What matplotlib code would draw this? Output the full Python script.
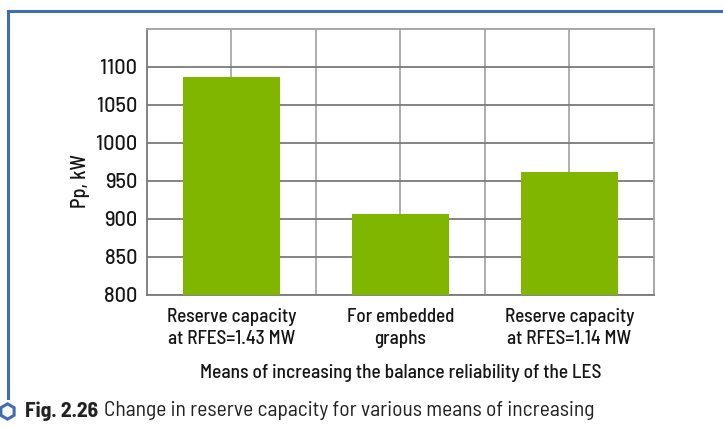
import matplotlib
matplotlib.use('Agg')
import matplotlib.pyplot as plt
from matplotlib.lines import Line2D
import numpy as np

categories = ['Reserve capacity\nat RFES=1.43 MW', 'For embedded\ngraphs', 'Reserve capacity\nat RFES=1.14 MW']
values = [1087, 907, 962]
yticks = [800, 850, 900, 950, 1000, 1050, 1100]

plt.rcParams['font.family'] = ['Barlow Semi Condensed', 'DejaVu Sans']
plt.rcParams['font.weight'] = 'medium'
plt.rcParams['axes.labelweight'] = 'medium'
ink = '#151515'

fig = plt.figure(figsize=(7.23, 4.28), dpi=100)
W, H = 723, 428
ax = fig.add_axes([147 / W, 1 - 295 / H, (654 - 147) / W, (295 - 29) / H])

x = np.arange(len(categories))
ax.bar(x, values, width=0.575, color='#80b500', zorder=3)
ax.set_xlim(-0.5, len(categories) - 0.5)
ax.set_ylim(800, 1150)
ax.set_yticks(yticks)
ax.set_yticklabels([str(v) for v in yticks], family=['Barlow', 'DejaVu Sans'],
                   fontsize=14.5, color=ink)
ax.set_xticks(x)
ax.set_xticklabels(categories, fontsize=13.8, color=ink, linespacing=1.3)
ax.tick_params(axis='y', length=0, pad=7)
ax.tick_params(axis='x', length=0, pad=9)
ax.grid(axis='y', color='#7a7a7a', linewidth=1.3, zorder=1)
# vertical grid every half category
for gx in np.arange(0, len(categories) - 0.5, 0.5):
    ax.axvline(gx, color='#a8a8a8', linewidth=1.3, zorder=1)
for s in ax.spines.values():
    s.set_color('#a0a0a0')
    s.set_linewidth(1.3)
ax.spines['left'].set_color('#7a7a7a')
ax.spines['bottom'].set_color('#7a7a7a')

ax.set_ylabel('Pp, kW', fontsize=14.5, color=ink)
ax.yaxis.set_label_coords(-0.112, 0.43)
ax.set_xlabel('Means of increasing the balance reliability of the LES', fontsize=14,
              color=ink, labelpad=12)

# blue frame
blue = '#3e6db5'
fig.add_artist(Line2D([8 / W, 1], [1 - 11 / H, 1 - 11 / H], color=blue, linewidth=2.2))
fig.add_artist(Line2D([8 / W, 8 / W], [1 - 11 / H, 1 - 398 / H], color=blue, linewidth=2.2))

# caption
fig.add_artist(Line2D([7 / W], [1 - 411 / H], marker='h', markersize=11, markerfacecolor='none',
                      markeredgecolor=blue, markeredgewidth=2.2))
t1 = fig.text(25 / W, 1 - 411 / H, 'Fig. 2.26', fontsize=15.5, fontweight='bold', color='#222222',
              va='center', ha='left')
fig.canvas.draw()
bb = t1.get_window_extent()
fig.text((bb.x1 + 6) / W, 1 - 411 / H, 'Change in reserve capacity for various means of increasing',
         fontsize=15.5, fontweight='normal', color='#222222', va='center', ha='left')

fig.savefig('out.png', dpi=100)
